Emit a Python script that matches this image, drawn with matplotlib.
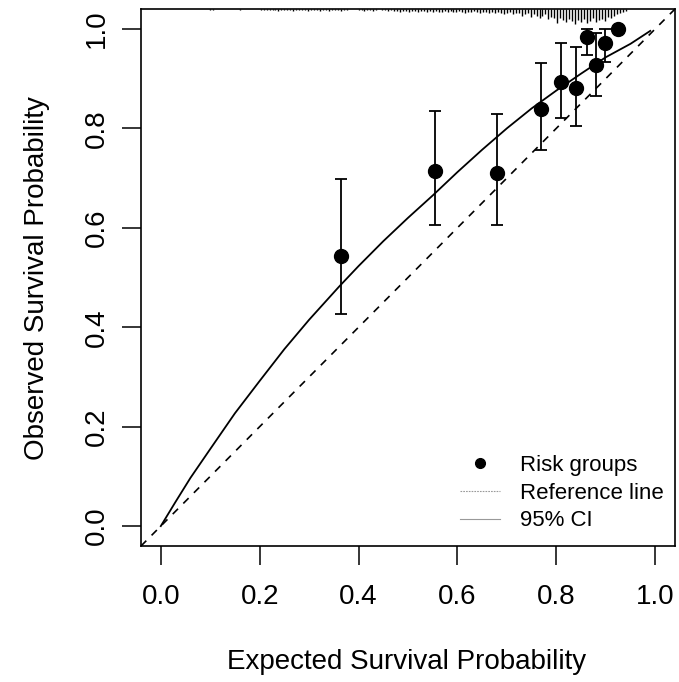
import matplotlib
matplotlib.use("Agg")
import matplotlib.pyplot as plt
import numpy as np
from matplotlib.lines import Line2D

plt.rcParams['font.family'] = ['Liberation Sans', 'DejaVu Sans']

# Grupos de riesgo: probabilidad esperada vs observada con IC 95%
esperada = [0.364, 0.554, 0.679, 0.768, 0.810, 0.840, 0.863, 0.881, 0.899, 0.925]
observada = [0.543, 0.714, 0.710, 0.839, 0.893, 0.881, 0.984, 0.928, 0.972, 1.000]
ic_inf = [0.427, 0.606, 0.606, 0.757, 0.821, 0.805, 0.948, 0.865, 0.934, 1.000]
ic_sup = [0.698, 0.835, 0.829, 0.932, 0.972, 0.964, 1.000, 0.992, 1.000, 1.000]

# Curva de calibracion suavizada
curva_x = [0.0, 0.03, 0.06, 0.10, 0.15, 0.20, 0.25, 0.30, 0.36, 0.40, 0.45,
           0.50, 0.55, 0.60, 0.65, 0.70, 0.75, 0.80, 0.85, 0.90, 0.95, 0.99]
curva_y = [0.0, 0.049, 0.097, 0.155, 0.227, 0.292, 0.356, 0.415, 0.481, 0.523, 0.573,
           0.620, 0.665, 0.712, 0.757, 0.800, 0.840, 0.876, 0.910, 0.943, 0.970, 0.996]

# Distribucion de riesgo (rug superior): frecuencias por intervalo
rug_inicio = 0.100
rug_paso = 0.006
rug_frec = [1, 1, 0, 0, 0, 0, 0, 0, 0, 0,
            1, 0, 0, 0, 0, 0, 0, 1,
            1, 1, 1, 1, 1, 2, 1, 1, 1, 1, 2, 1,
            1, 1, 1, 2, 1, 1, 1, 2, 1, 1, 2, 1, 1, 1, 2, 1, 1,
            0, 0, 0,
            1, 1, 2, 1, 1, 2, 1, 0, 1, 1,
            2, 1, 2, 2, 3, 2, 2, 3, 2, 2, 3, 2, 2, 3, 2, 3, 2, 3, 3, 2,
            3, 2, 3, 3, 2, 3, 4, 3, 3, 2, 3, 4, 3, 3, 4, 3, 4, 3, 4, 5, 4, 3, 5, 4,
            4, 6, 5, 4, 7, 5, 6, 8, 6, 5, 9, 7, 8, 13, 8, 10, 12, 9, 11, 14,
            10, 12, 9, 13, 11, 8, 12, 10, 9, 11, 7, 8, 6, 5, 4, 3, 2]

ticks = [0.0, 0.2, 0.4, 0.6, 0.8, 1.0]

fig = plt.figure(figsize=(6.79, 6.82), dpi=100)
ax = fig.add_axes([141 / 679, 1 - 546 / 682, 534 / 679, 537 / 682])
ax.set_xlim(-0.04, 1.04)
ax.set_ylim(-0.04, 1.04)

# Linea de referencia
ax.axline((0, 0), (1, 1), color='black', lw=1.2, dashes=(4.5, 4.5))

# Curva
ax.plot(curva_x, curva_y, color='black', lw=1.3)

# Puntos con IC
obs = np.array(observada)
yerr = [obs - np.array(ic_inf), np.array(ic_sup) - obs]
ax.errorbar(esperada, observada, yerr=yerr, fmt='o', color='black',
            markersize=10, elinewidth=1.3, capsize=4.5, capthick=1.3)

# Rug superior
rug_x = rug_inicio + rug_paso * np.arange(len(rug_frec))
frec = np.array(rug_frec)
mask = frec > 0
alto = 0.0022 * frec[mask]
ax.vlines(rug_x[mask], 1.04 - alto, 1.04, color='black', lw=1.0)

ax.set_xticks(ticks)
ax.set_yticks(ticks)
ax.set_xticklabels([f'{t:.1f}' for t in ticks])
ax.set_yticklabels([f'{t:.1f}' for t in ticks], rotation=90, va='center')
ax.tick_params(direction='out', length=13.5, width=1.1, labelsize=20)
ax.tick_params(axis='x', pad=14)
ax.tick_params(axis='y', pad=9)
for s in ax.spines.values():
    s.set_linewidth(1.2)

fig.text(407 / 679, 1 - 662 / 682, 'Expected Survival Probability',
         ha='center', va='center', fontsize=20)
fig.text(37 / 679, 1 - 278 / 682, 'Observed Survival Probability',
         ha='center', va='center', rotation=90, fontsize=20)

handles = [
    Line2D([], [], marker='o', color='black', linestyle='none', markersize=7),
    Line2D([], [], color='#999999', lw=0.8, linestyle=(0, (1.5, 1))),
    Line2D([], [], color='#999999', lw=0.8),
]
etiquetas = ['Risk groups', 'Reference line', '95% CI']
ax.legend(handles, etiquetas, loc='upper left',
          bbox_to_anchor=(460 / 679, 1 - 455 / 682), bbox_transform=fig.transFigure,
          frameon=False, fontsize=16, borderpad=0, borderaxespad=0,
          handlelength=1.8, handletextpad=0.9, labelspacing=0.3)

fig.savefig('out.png', dpi=100)
